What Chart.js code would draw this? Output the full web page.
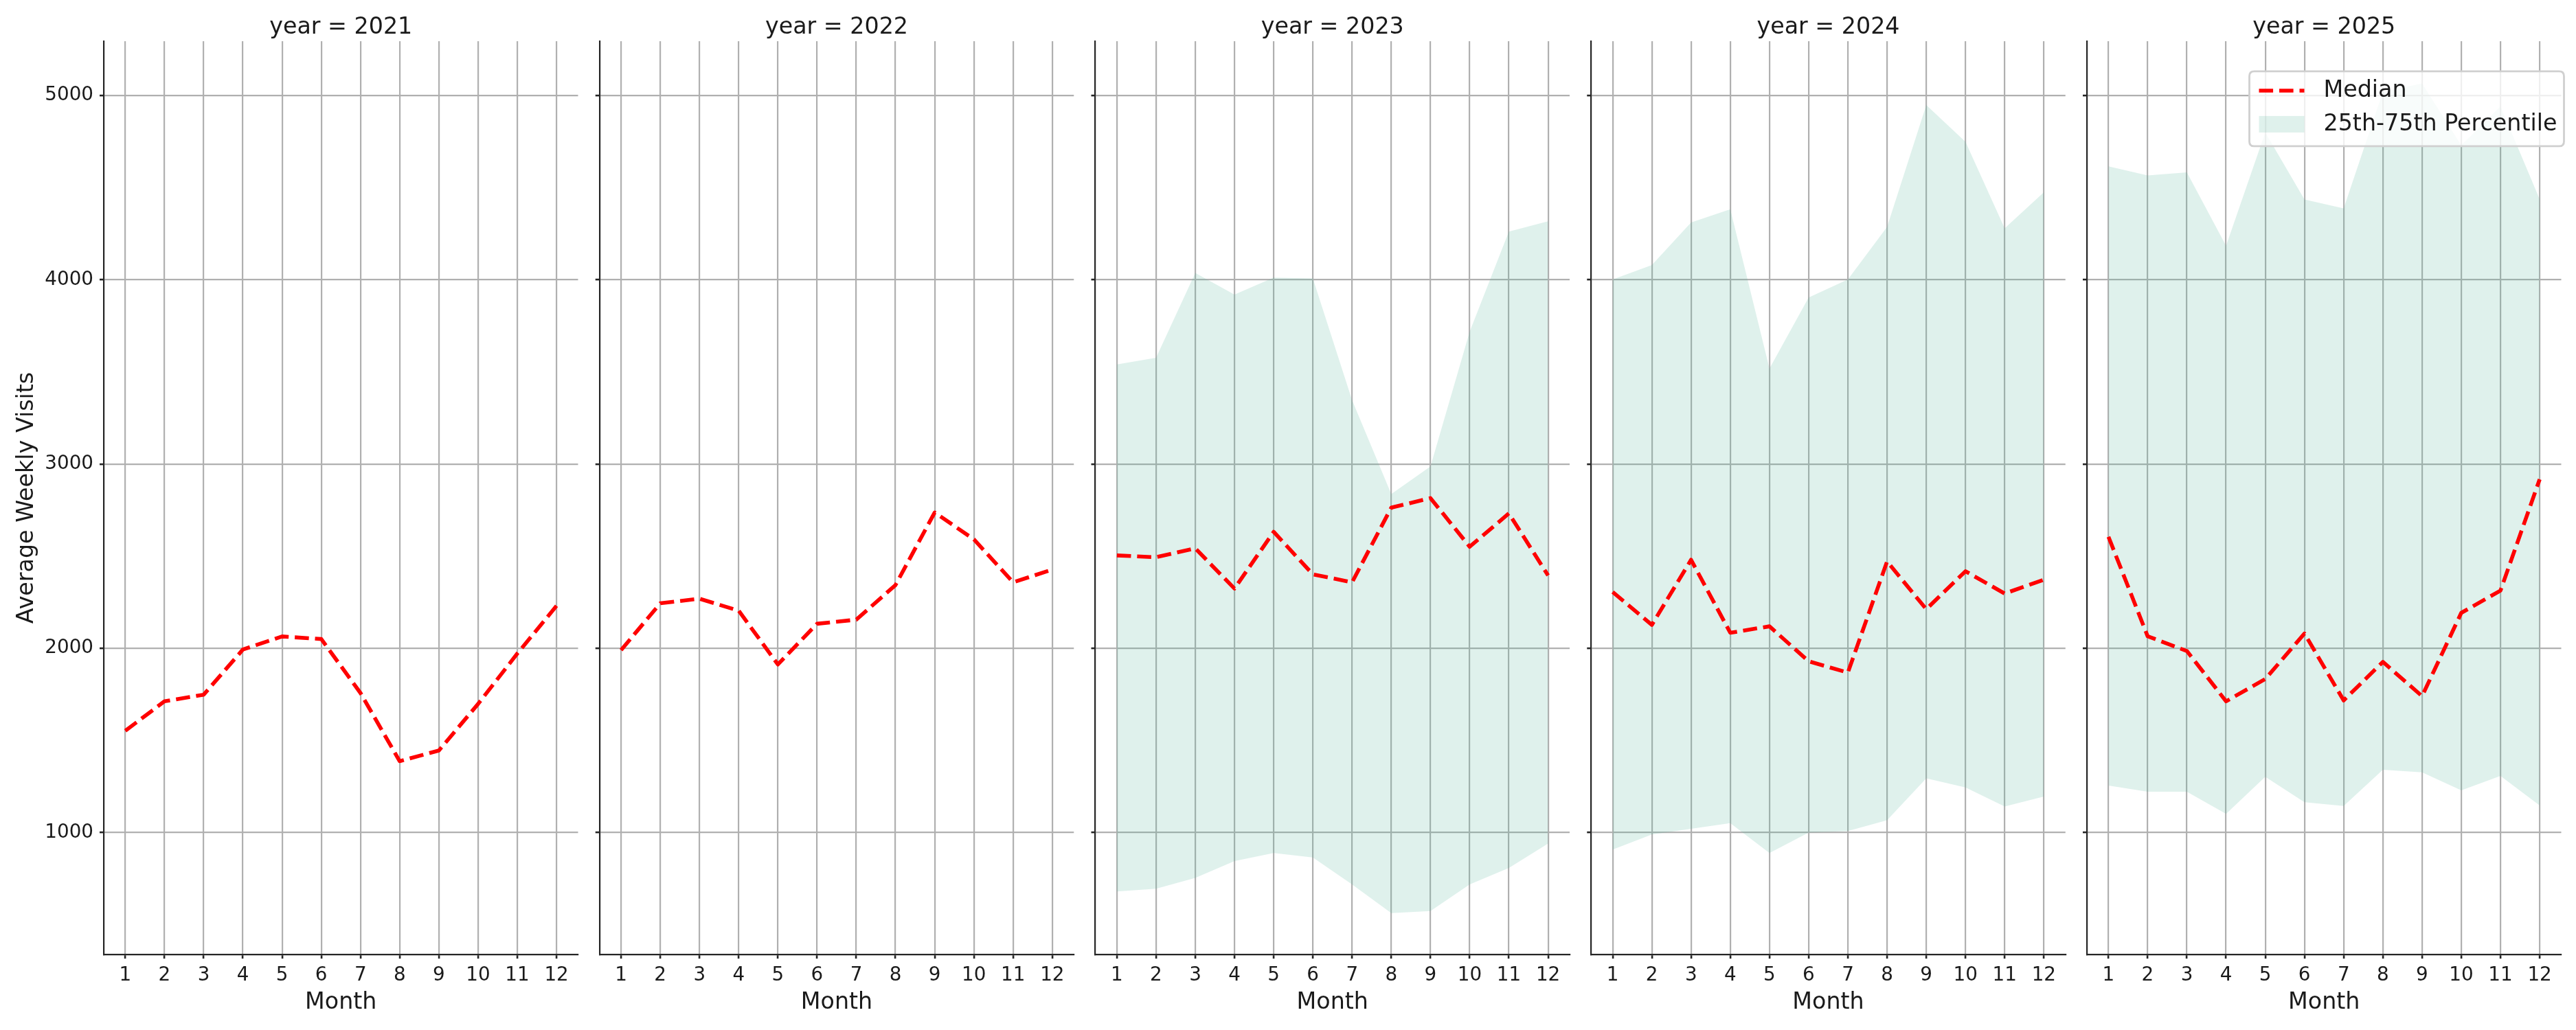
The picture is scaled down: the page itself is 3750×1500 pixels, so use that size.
<!DOCTYPE html>
<html>
<head>
<meta charset="utf-8">
<script src="https://cdn.jsdelivr.net/npm/chart.js@4.4.1/dist/chart.umd.min.js"></script>
<style>
  html, body { margin: 0; padding: 0; background: #ffffff; overflow: hidden; }
  #wrap { position: relative; width: 3750px; height: 1500px; background: #ffffff; }
  #wrap canvas { position: absolute; left: 0; top: 0; }
</style>
</head>
<body>
<div id="wrap"></div>
<script>
// ---------------- data ----------------
const months = [1, 2, 3, 4, 5, 6, 7, 8, 9, 10, 11, 12];
const years = [2021, 2022, 2023, 2024, 2025];
const yTicks = [1000, 2000, 3000, 4000, 5000];

const median2021 = [1552, 1712, 1748, 1993, 2064, 2050, 1757, 1387, 1445, 1698, 1971, 2230];
const median2022 = [1990, 2244, 2269, 2204, 1912, 2133, 2155, 2343, 2737, 2591, 2358, 2427];
const median2023 = [2504, 2494, 2542, 2324, 2632, 2401, 2358, 2763, 2815, 2551, 2732, 2395];
const median2024 = [2305, 2127, 2480, 2084, 2119, 1929, 1868, 2471, 2212, 2418, 2297, 2372];
const median2025 = [2605, 2065, 1985, 1712, 1833, 2080, 1717, 1926, 1740, 2192, 2313, 2917];

const q25_2023 = [680, 695, 754, 845, 889, 864, 718, 563, 574, 718, 808, 940];
const q75_2023 = [3540, 3577, 4037, 3920, 4012, 4007, 3347, 2837, 2987, 3718, 4262, 4317];
const q25_2024 = [907, 989, 1020, 1051, 889, 1000, 1008, 1067, 1294, 1245, 1141, 1195];
const q75_2024 = [4002, 4080, 4311, 4383, 3518, 3904, 4002, 4287, 4948, 4749, 4279, 4475];
const q25_2025 = [1255, 1221, 1221, 1101, 1302, 1164, 1144, 1341, 1327, 1229, 1307, 1147];
const q75_2025 = [4616, 4566, 4583, 4184, 4800, 4436, 4387, 5020, 5066, 4730, 4942, 4437];

const medians = [median2021, median2022, median2023, median2024, median2025];
const q25s = [null, null, q25_2023, q25_2024, q25_2025];
const q75s = [null, null, q75_2023, q75_2024, q75_2025];

const xLabel = 'Month';
const yLabel = 'Average Weekly Visits';
const legendLabels = ['Median', '25th-75th Percentile'];

// ---------------- style ----------------
const W = 3750, H = 1500;
const PANEL_LEFT0 = 151, PANEL_PITCH = 721.75, PANEL_W = 690.5;
const PLOT_TOP = 60, PLOT_BOTTOM = 1390;
const X_MIN = 0.45, X_MAX = 12.55, Y_MIN = 338, Y_MAX = 5295;
const FONT = "'DejaVu Sans', 'Liberation Sans', sans-serif";
const TICK_FS = 27.8, LABEL_FS = 33.3;
const TEXT_COLOR = '#1a1a1a';
const SPINE_COLOR = '#262626';
const GRID_COLOR = '#b0b0b0';
const BAND_COLOR = 'rgba(95, 185, 160, 0.2)';
const MED_COLOR = '#ff0000';
const MED_WIDTH = 5.6;
const MED_DASH = [20.6, 8.9];
const TICK_LEN = 6;

Chart.defaults.font.family = FONT;
Chart.defaults.color = TEXT_COLOR;

const pts = (arr) => arr.map((v, i) => ({ x: months[i], y: v }));

const legendPlugin = {
  id: 'mplLegend',
  afterDraw(chart) {
    if (!chart.options.plugins.mplLegend || !chart.options.plugins.mplLegend.show) return;
    const ctx = chart.ctx;
    const ca = chart.chartArea;
    const x0 = ca.right - 454, x1 = ca.right + 4;
    const y0 = ca.top + 44, y1 = ca.top + 153;
    const r = 7;
    ctx.save();
    ctx.beginPath();
    ctx.moveTo(x0 + r, y0);
    ctx.lineTo(x1 - r, y0); ctx.quadraticCurveTo(x1, y0, x1, y0 + r);
    ctx.lineTo(x1, y1 - r); ctx.quadraticCurveTo(x1, y1, x1 - r, y1);
    ctx.lineTo(x0 + r, y1); ctx.quadraticCurveTo(x0, y1, x0, y1 - r);
    ctx.lineTo(x0, y0 + r); ctx.quadraticCurveTo(x0, y0, x0 + r, y0);
    ctx.closePath();
    ctx.fillStyle = 'rgba(255,255,255,0.8)';
    ctx.fill();
    ctx.lineWidth = 2.8;
    ctx.strokeStyle = '#d0d0d0';
    ctx.stroke();

    const hx0 = x0 + 14, hx1 = x0 + 80;
    const row1 = y0 + 28, row2 = y0 + 77;
    // median handle
    ctx.beginPath();
    ctx.setLineDash(MED_DASH);
    ctx.lineWidth = MED_WIDTH;
    ctx.strokeStyle = MED_COLOR;
    ctx.moveTo(hx0, row1); ctx.lineTo(hx1, row1);
    ctx.stroke();
    ctx.setLineDash([]);
    // band handle
    ctx.fillStyle = BAND_COLOR;
    ctx.fillRect(hx0, row2 - 12, hx1 - hx0, 24);
    // text
    ctx.fillStyle = TEXT_COLOR;
    ctx.font = LABEL_FS + 'px ' + FONT;
    ctx.textAlign = 'left';
    ctx.textBaseline = 'middle';
    ctx.fillText(legendLabels[0], x0 + 108, row1);
    ctx.fillText(legendLabels[1], x0 + 108, row2);
    ctx.restore();
  }
};

const wrap = document.getElementById('wrap');

years.forEach((yr, i) => {
  const canvas = document.createElement('canvas');
  canvas.width = W; canvas.height = H;
  canvas.style.width = W + 'px'; canvas.style.height = H + 'px';
  wrap.appendChild(canvas);

  const left = PANEL_LEFT0 + i * PANEL_PITCH;
  const right = left + PANEL_W;
  const yAxisW = i === 0 ? left : 10;
  const xAxisH = 100;

  const datasets = [{
    label: legendLabels[0],
    data: pts(medians[i]),
    borderColor: MED_COLOR,
    borderWidth: MED_WIDTH,
    borderDash: MED_DASH,
    borderJoinStyle: 'round',
    borderCapStyle: 'butt',
    pointRadius: 0,
    fill: false,
    tension: 0
  }];
  if (q75s[i]) {
    datasets.push({
      label: legendLabels[1],
      data: pts(q75s[i]),
      borderWidth: 0,
      borderColor: 'rgba(0,0,0,0)',
      backgroundColor: BAND_COLOR,
      pointRadius: 0,
      fill: '+1',
      tension: 0
    });
    datasets.push({
      label: '_q25',
      data: pts(q25s[i]),
      borderWidth: 0,
      borderColor: 'rgba(0,0,0,0)',
      backgroundColor: BAND_COLOR,
      pointRadius: 0,
      fill: false,
      tension: 0
    });
  }

  new Chart(canvas, {
    type: 'line',
    data: { datasets },
    plugins: [legendPlugin],
    options: {
      responsive: false,
      devicePixelRatio: 1,
      animation: false,
      events: [],
      layout: {
        padding: {
          left: left - yAxisW,
          right: W - right,
          top: 0,
          bottom: H - PLOT_BOTTOM - xAxisH
        }
      },
      plugins: {
        legend: { display: false },
        tooltip: { enabled: false },
        title: {
          display: true,
          text: 'year = ' + yr,
          fullSize: false,
          color: TEXT_COLOR,
          font: { size: LABEL_FS, weight: 'normal', family: FONT, lineHeight: 1.2 },
          padding: { top: 20, bottom: 0 }
        },
        mplLegend: { show: i === years.length - 1 }
      },
      scales: {
        x: {
          type: 'linear',
          min: X_MIN, max: X_MAX,
          bounds: 'data',
          afterBuildTicks: (s) => { s.ticks = months.map(v => ({ value: v })); },
          afterFit: (s) => { s.height = xAxisH; },
          ticks: {
            autoSkip: false,
            maxRotation: 0,
            padding: 8,
            color: TEXT_COLOR,
            font: { size: TICK_FS, family: FONT }
          },
          grid: {
            color: GRID_COLOR,
            lineWidth: 2.2,
            drawTicks: true,
            tickLength: TICK_LEN,
            tickColor: SPINE_COLOR,
            tickWidth: 2.6
          },
          border: { display: true, color: SPINE_COLOR, width: 2.2 },
          title: {
            display: true,
            text: xLabel,
            color: TEXT_COLOR,
            font: { size: LABEL_FS, family: FONT, lineHeight: 1.2 },
            padding: { top: 0, bottom: 10 }
          }
        },
        y: {
          type: 'linear',
          min: Y_MIN, max: Y_MAX,
          bounds: 'data',
          afterBuildTicks: (s) => { s.ticks = yTicks.map(v => ({ value: v })); },
          afterFit: (s) => { s.width = yAxisW; },
          ticks: {
            display: i === 0,
            padding: 9,
            color: TEXT_COLOR,
            font: { size: TICK_FS, family: FONT },
            callback: (v) => String(v)
          },
          grid: {
            color: GRID_COLOR,
            lineWidth: 2.2,
            drawTicks: true,
            tickLength: TICK_LEN,
            tickColor: SPINE_COLOR,
            tickWidth: 2.6
          },
          border: { display: true, color: SPINE_COLOR, width: 2.2 },
          title: {
            display: i === 0,
            text: yLabel,
            color: TEXT_COLOR,
            font: { size: LABEL_FS, family: FONT, lineHeight: 1.2 },
            padding: { top: 19, bottom: 0 }
          }
        }
      }
    }
  });
});
</script>
</body>
</html>
